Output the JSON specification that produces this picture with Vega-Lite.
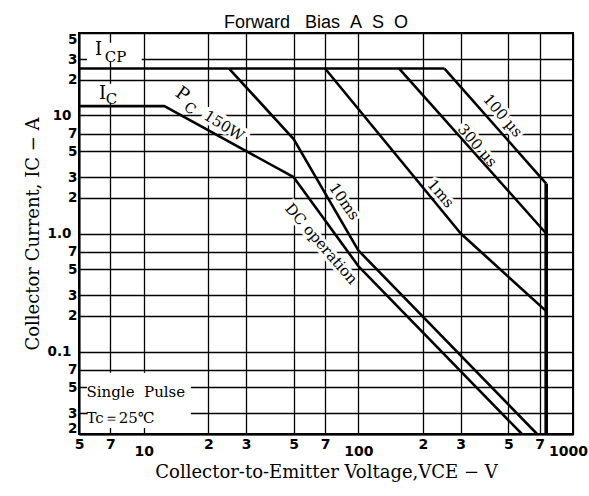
{
  "$schema": "https://vega.github.io/schema/vega-lite/v6.json",
  "width": 494,
  "height": 401,
  "autosize": {"type": "none"},
  "padding": {"left": 79, "top": 33, "right": 16, "bottom": 62},
  "background": "white",
  "title": {
    "text": "Forward\u00a0\u00a0\u00a0Bias\u00a0\u00a0A\u00a0\u00a0S\u00a0\u00a0O",
    "font": "Liberation Sans",
    "fontSize": 18,
    "fontWeight": "normal",
    "color": "black",
    "anchor": "middle",
    "frame": "group",
    "dx": -10,
    "dy": 22,
    "baseline": "bottom",
    "offset": 4
  },
  "datasets": {
    "curves": [
      {"series": "icp", "o": 1, "v": 5, "i": 25},
      {"series": "icp", "o": 2, "v": 252, "i": 25},
      {"series": "100us", "o": 1, "v": 252, "i": 25},
      {"series": "100us", "o": 2, "v": 750, "i": 2.65},
      {"series": "300us", "o": 1, "v": 155, "i": 25},
      {"series": "300us", "o": 2, "v": 750, "i": 1.0},
      {"series": "1ms", "o": 1, "v": 70, "i": 25},
      {"series": "1ms", "o": 2, "v": 300, "i": 1.0},
      {"series": "1ms", "o": 3, "v": 750, "i": 0.22},
      {"series": "10ms", "o": 1, "v": 25, "i": 25},
      {"series": "10ms", "o": 2, "v": 50, "i": 6.3},
      {"series": "10ms", "o": 3, "v": 100, "i": 0.72},
      {"series": "10ms", "o": 4, "v": 680, "i": 0.02},
      {"series": "dc", "o": 1, "v": 5, "i": 12},
      {"series": "dc", "o": 2, "v": 12.5, "i": 12},
      {"series": "dc", "o": 3, "v": 50, "i": 3},
      {"series": "dc", "o": 4, "v": 100, "i": 0.53},
      {"series": "dc", "o": 5, "v": 578, "i": 0.02},
      {"series": "vceo", "o": 1, "v": 750, "i": 2.65},
      {"series": "vceo", "o": 2, "v": 750, "i": 0.02}
    ],
    "boxes": [
      {"v": 5.45, "v2": 16.6, "i": 0.0225, "i2": 0.066},
      {"v": 5.45, "v2": 9.8, "i": 28.6, "i2": 41.4},
      {"v": 5.6, "v2": 9.6, "i": 12.9, "i2": 18.6}
    ],
    "labels": [
      {"kind": "big", "text": "I", "v": 6.16, "i": 36.1},
      {"kind": "sub", "text": "CP", "v": 7.4, "i": 31.5},
      {"kind": "big", "text": "I", "v": 6.43, "i": 15.3},
      {"kind": "sub", "text": "C", "v": 7.08, "i": 13.9},
      {"kind": "note", "text": "Single\u00a0\u00a0Pulse", "v": 5.42, "i": 0.0455},
      {"kind": "note", "text": "Tc＝25℃", "v": 5.42, "i": 0.0274},
      {"kind": "pcP", "text": "P", "v": 15.1, "i": 15.0},
      {"kind": "pcC", "text": "C", "v": 16.4, "i": 11.4},
      {"kind": "pcW", "text": "150W", "v": 23.7, "i": 8.2},
      {"kind": "c55", "text": "10ms", "v": 86, "i": 1.87},
      {"kind": "c49", "text": "DC operation", "v": 67.2, "i": 0.82},
      {"kind": "c49", "text": "1ms", "v": 242, "i": 2.18},
      {"kind": "c49", "text": "300 µs", "v": 359, "i": 5.57},
      {"kind": "c49", "text": "100 µs", "v": 471, "i": 10.0}
    ]
  },
  "layer": [
    {
      "data": {"name": "boxes"},
      "mark": {"type": "rect", "fill": "white", "stroke": null},
      "encoding": {
        "x": {
          "field": "v", "type": "quantitative",
          "scale": {"type": "log", "domain": [5, 1000], "nice": false},
          "axis": {
            "values": [5, 7, 10, 20, 30, 50, 70, 100, 200, 300, 500, 700, 1000],
            "labelExpr": "(datum.value==10||datum.value==100||datum.value==1000) ? format(datum.value,'d') : slice(format(datum.value,'.0e'),0,1)",
            "labelFont": "DejaVu Sans", "labelFontWeight": "bold", "labelFontSize": 14,
            "labelBaseline": "top",
            "labelPadding": {"condition": {"test": "datum.value==10||datum.value==100||datum.value==1000", "value": 10}, "value": 3},
            "labelOffset": {"condition": {"test": "datum.value==1000", "value": -5}, "value": 0},
            "labelFlush": false, "labelOverlap": false, "labelBound": false,
            "title": "Collector-to-Emitter Voltage,VCE − V",
            "titleFont": "DejaVu Serif", "titleFontSize": 18, "titleFontWeight": "normal", "titlePadding": 5,
            "grid": true, "ticks": false, "tickSize": 0
          }
        },
        "x2": {"field": "v2"},
        "y": {
          "field": "i", "type": "quantitative",
          "scale": {"type": "log", "domain": [0.02, 50], "nice": false},
          "axis": {
            "values": [0.02, 0.03, 0.05, 0.07, 0.1, 0.2, 0.3, 0.5, 0.7, 1, 2, 3, 5, 7, 10, 20, 30, 50],
            "labelExpr": "datum.value==1 ? '1.0' : datum.value==0.1 ? '0.1' : datum.value==10 ? '10' : slice(format(datum.value,'.0e'),0,1)",
            "labelFont": "DejaVu Sans", "labelFontWeight": "bold", "labelFontSize": 13.5,
            "labelPadding": {"condition": {"test": "datum.value==1||datum.value==0.1||datum.value==10", "value": 8}, "value": 2},
            "labelFlush": true, "labelFlushOffset": 1, "labelOverlap": false, "labelBound": false,
            "title": "Collector Current, IC − A",
            "titleFont": "DejaVu Serif", "titleFontSize": 18, "titleFontWeight": "normal", "titlePadding": 5,
            "grid": true, "ticks": false, "tickSize": 0
          }
        },
        "y2": {"field": "i2"}
      }
    },
    {
      "data": {"name": "labels"},
      "transform": [{"filter": "datum.kind == 'c49'"}],
      "mark": {"type": "text", "font": "DejaVu Serif", "fontSize": 15, "angle": 49, "fill": "white", "stroke": "white", "strokeWidth": 6, "align": "center", "baseline": "middle"},
      "encoding": {"x": {"field": "v", "type": "quantitative"}, "y": {"field": "i", "type": "quantitative"}, "text": {"field": "text"}}
    },
    {
      "data": {"name": "labels"},
      "transform": [{"filter": "datum.kind == 'c55'"}],
      "mark": {"type": "text", "font": "DejaVu Serif", "fontSize": 15, "angle": 55, "fill": "white", "stroke": "white", "strokeWidth": 6, "align": "center", "baseline": "middle"},
      "encoding": {"x": {"field": "v", "type": "quantitative"}, "y": {"field": "i", "type": "quantitative"}, "text": {"field": "text"}}
    },
    {
      "data": {"name": "labels"},
      "transform": [{"filter": "datum.kind == 'pcW' || datum.kind == 'pcP'"}],
      "mark": {"type": "text", "font": "DejaVu Serif", "fontSize": 16, "angle": 32, "fill": "white", "stroke": "white", "strokeWidth": 6, "align": "center", "baseline": "middle"},
      "encoding": {"x": {"field": "v", "type": "quantitative"}, "y": {"field": "i", "type": "quantitative"}, "text": {"field": "text"}}
    },
    {
      "data": {"name": "curves"},
      "transform": [{"filter": "datum.series != 'vceo'"}],
      "mark": {"type": "line", "color": "black", "strokeWidth": 2.6, "strokeJoin": "round", "clip": true},
      "encoding": {
        "x": {"field": "v", "type": "quantitative"},
        "y": {"field": "i", "type": "quantitative"},
        "detail": {"field": "series"},
        "order": {"field": "o", "type": "quantitative"}
      }
    },
    {
      "data": {"name": "curves"},
      "transform": [{"filter": "datum.series == 'vceo'"}],
      "mark": {"type": "line", "color": "black", "strokeWidth": 3.6, "strokeJoin": "round", "clip": true},
      "encoding": {
        "x": {"field": "v", "type": "quantitative"},
        "y": {"field": "i", "type": "quantitative"},
        "order": {"field": "o", "type": "quantitative"}
      }
    },
    {
      "data": {"name": "labels"},
      "transform": [{"filter": "datum.kind == 'big'"}],
      "mark": {"type": "text", "font": "DejaVu Serif", "fontSize": 18, "color": "black", "align": "center", "baseline": "middle"},
      "encoding": {"x": {"field": "v", "type": "quantitative"}, "y": {"field": "i", "type": "quantitative"}, "text": {"field": "text"}}
    },
    {
      "data": {"name": "labels"},
      "transform": [{"filter": "datum.kind == 'sub'"}],
      "mark": {"type": "text", "font": "DejaVu Serif", "fontSize": 15, "color": "black", "align": "center", "baseline": "middle"},
      "encoding": {"x": {"field": "v", "type": "quantitative"}, "y": {"field": "i", "type": "quantitative"}, "text": {"field": "text"}}
    },
    {
      "data": {"name": "labels"},
      "transform": [{"filter": "datum.kind == 'note'"}],
      "mark": {"type": "text", "font": "DejaVu Serif", "fontSize": 15, "color": "black", "align": "left", "baseline": "middle"},
      "encoding": {"x": {"field": "v", "type": "quantitative"}, "y": {"field": "i", "type": "quantitative"}, "text": {"field": "text"}}
    },
    {
      "data": {"name": "labels"},
      "transform": [{"filter": "datum.kind == 'pcP'"}],
      "mark": {"type": "text", "font": "DejaVu Serif", "fontSize": 18, "angle": 35, "color": "black", "align": "center", "baseline": "middle"},
      "encoding": {"x": {"field": "v", "type": "quantitative"}, "y": {"field": "i", "type": "quantitative"}, "text": {"field": "text"}}
    },
    {
      "data": {"name": "labels"},
      "transform": [{"filter": "datum.kind == 'pcC'"}],
      "mark": {"type": "text", "font": "DejaVu Serif", "fontSize": 14, "angle": 35, "color": "black", "align": "center", "baseline": "middle"},
      "encoding": {"x": {"field": "v", "type": "quantitative"}, "y": {"field": "i", "type": "quantitative"}, "text": {"field": "text"}}
    },
    {
      "data": {"name": "labels"},
      "transform": [{"filter": "datum.kind == 'pcW'"}],
      "mark": {"type": "text", "font": "DejaVu Serif", "fontSize": 15, "angle": 32, "color": "black", "align": "center", "baseline": "middle"},
      "encoding": {"x": {"field": "v", "type": "quantitative"}, "y": {"field": "i", "type": "quantitative"}, "text": {"field": "text"}}
    },
    {
      "data": {"name": "labels"},
      "transform": [{"filter": "datum.kind == 'c55'"}],
      "mark": {"type": "text", "font": "DejaVu Serif", "fontSize": 15, "angle": 55, "color": "black", "align": "center", "baseline": "middle"},
      "encoding": {"x": {"field": "v", "type": "quantitative"}, "y": {"field": "i", "type": "quantitative"}, "text": {"field": "text"}}
    },
    {
      "data": {"name": "labels"},
      "transform": [{"filter": "datum.kind == 'c49'"}],
      "mark": {"type": "text", "font": "DejaVu Serif", "fontSize": 15, "angle": 49, "color": "black", "align": "center", "baseline": "middle"},
      "encoding": {"x": {"field": "v", "type": "quantitative"}, "y": {"field": "i", "type": "quantitative"}, "text": {"field": "text"}}
    }
  ],
  "config": {
    "view": {"stroke": "black", "strokeWidth": 2},
    "axis": {
      "domainColor": "black", "domainWidth": 2,
      "gridColor": "black", "gridWidth": 1.3, "gridOpacity": 1,
      "labelColor": "black", "titleColor": "black"
    }
  }
}
